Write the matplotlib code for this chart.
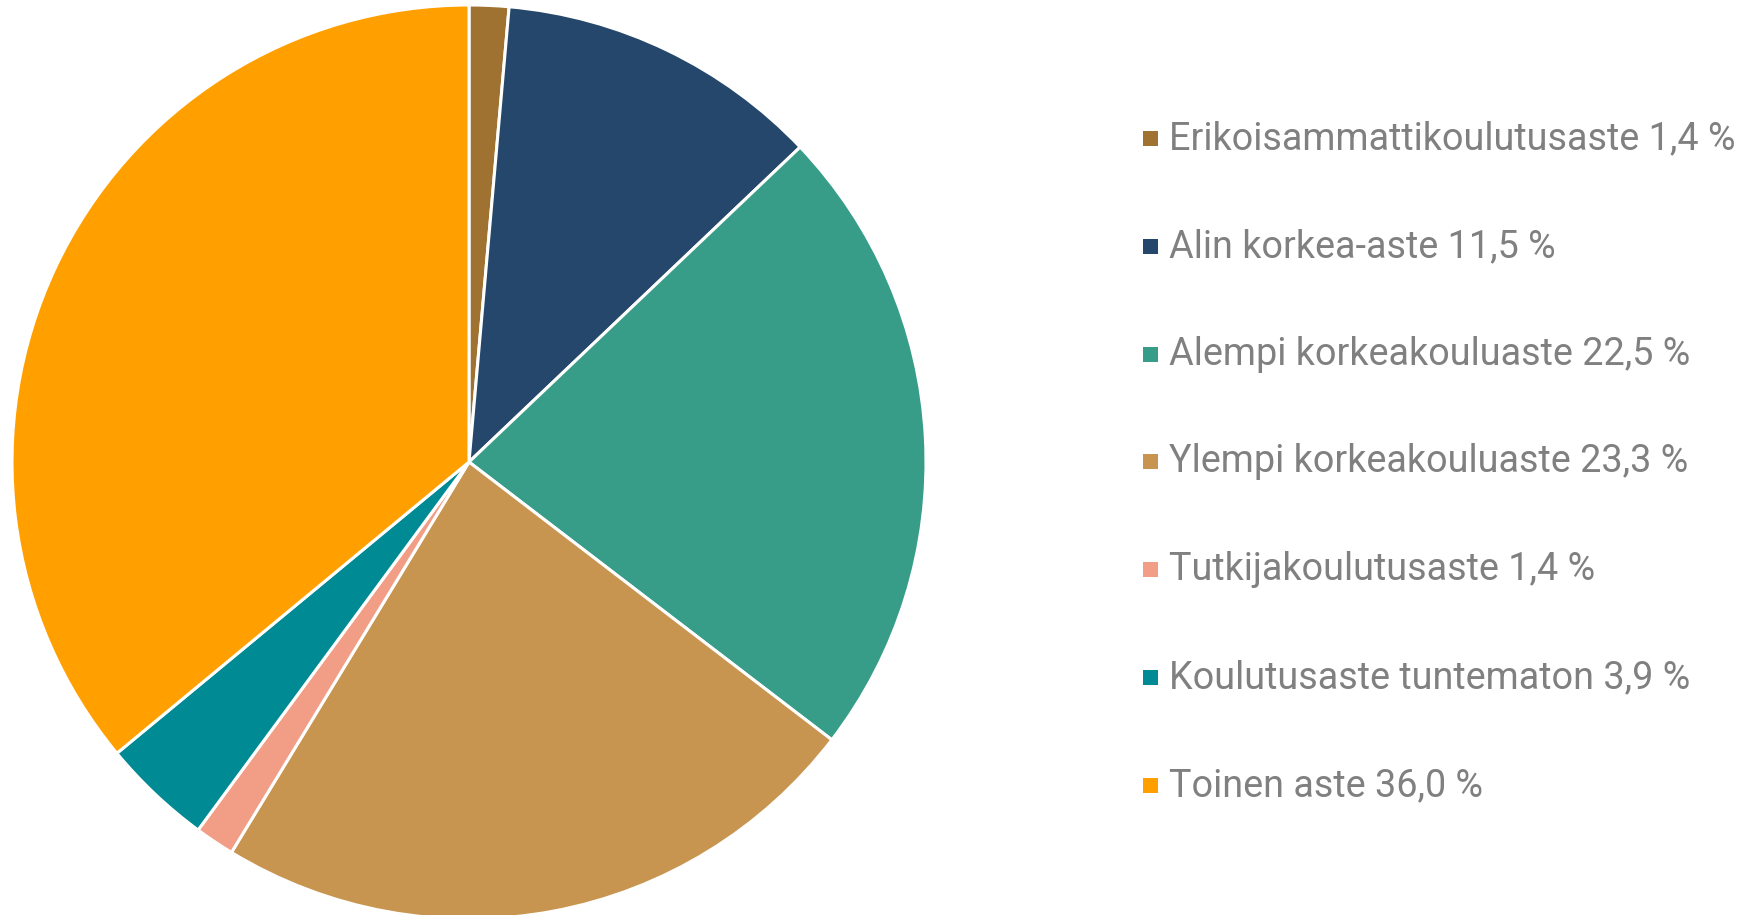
import matplotlib
matplotlib.use("Agg")
import matplotlib.pyplot as plt
from matplotlib.patches import Rectangle

categories = ["Erikoisammattikoulutusaste", "Alin korkea-aste", "Alempi korkeakouluaste",
              "Ylempi korkeakouluaste", "Tutkijakoulutusaste", "Koulutusaste tuntematon",
              "Toinen aste"]
values = [1.4, 11.5, 22.5, 23.3, 1.4, 3.9, 36.0]
colors = ["#A07232", "#24476B", "#389D88", "#C89551", "#F29D85", "#008A93", "#FFA000"]
labels = [f"{c} {v:.1f} %".replace(".", ",") for c, v in zip(categories, values)]

W, H = 1757, 915
fig = plt.figure(figsize=(W / 100, H / 100), dpi=100)

ax = fig.add_axes([12 / W, -4 / H, 914 / W, 914 / H])
ax.pie(values, colors=colors, startangle=90, counterclock=False,
       wedgeprops=dict(edgecolor="white", linewidth=2.2))
ax.set_xlim(-1, 1)
ax.set_ylim(-1, 1)
ax.set_aspect("equal")
ax.axis("off")

y0, dy = 138.5, 107.8
for i, (lab, col) in enumerate(zip(labels, colors)):
    yc = y0 + i * dy
    sq = 15
    fig.patches.append(Rectangle(((1143) / W, (H - yc - sq / 2) / H), sq / W, sq / H,
                                 transform=fig.transFigure, facecolor=col, edgecolor="none"))
    fig.text(1169 / W, (H - yc) / H, lab, ha="left", va="center", fontsize=27.2,
             color="#808080", family="Roboto")

fig.savefig("out.png", dpi=100)
